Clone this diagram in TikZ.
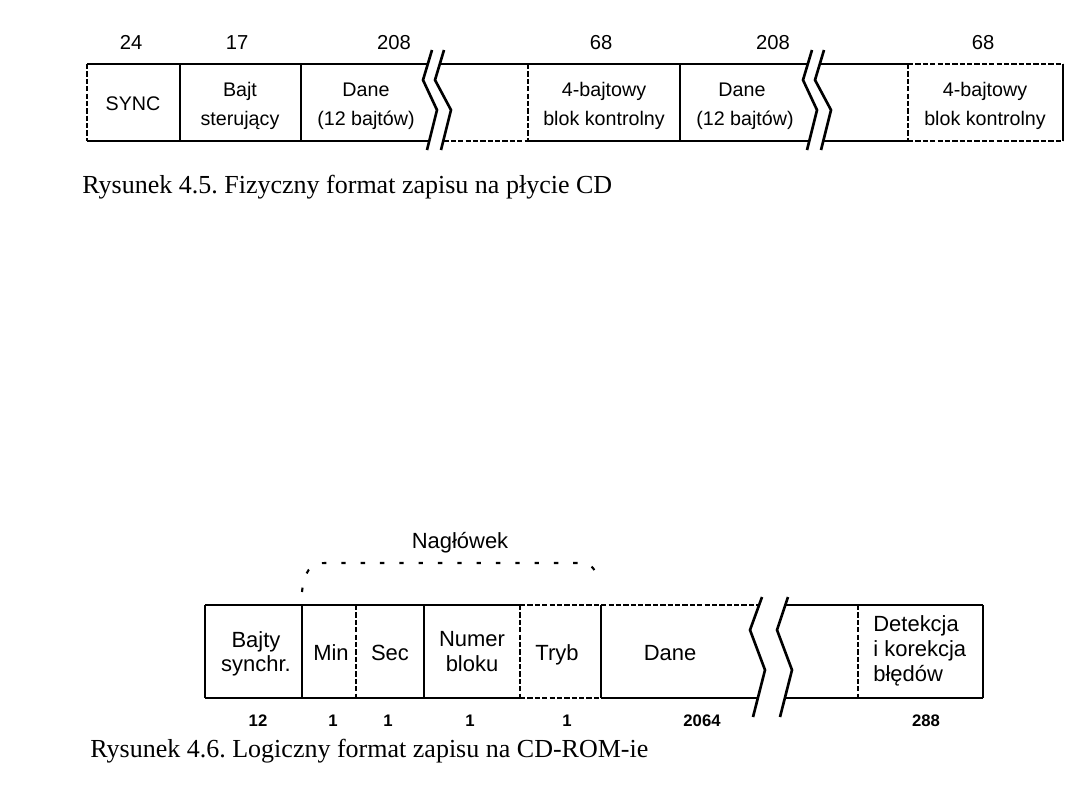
\documentclass[tikz,border=0pt]{standalone}
\usepackage{fontspec}
\setmainfont{Liberation Serif}
\setsansfont{Liberation Sans}
\frenchspacing
\begin{document}
\begin{tikzpicture}[x=0.2mm,y=-0.2mm,
  ln/.style={line width=1.5pt},
  dl/.style={line width=1.3pt, dash pattern=on 3pt off 1.2pt},
  brk/.style={line width=1.5pt, line join=miter},
  gapfill/.style={fill=white, draw=none},
  lblA/.style={font=\sffamily\fontsize{11.2}{13}\selectfont, inner sep=0pt, anchor=base},
  numA/.style={font=\sffamily\fontsize{11.5}{13}\selectfont, inner sep=0pt, anchor=base},
  lblB/.style={font=\sffamily\fontsize{12.5}{14}\selectfont, inner sep=0pt, anchor=base},
  numB/.style={font=\sffamily\bfseries\fontsize{9.5}{11}\selectfont, inner sep=0pt, anchor=base},
  captext/.style={font=\rmfamily\fontsize{14.8}{18}\selectfont, inner sep=0pt, anchor=base west},
  hdr/.style={line width=1.2pt, dash pattern=on 2.5pt off 8.5pt}
]
\useasboundingbox (0,0) rectangle (1080,810);

% ================= Figure 4.5 =================
\draw[ln] (87,64) -- (908,64);
\draw[dl] (908,64) -- (1063,64);
\draw[ln] (87,141) -- (436,141);
\draw[dl] (436,141) -- (528,141);
\draw[ln] (528,141) -- (908,141);
\draw[dl] (908,141) -- (1063,141);
\draw[dl] (87,64) -- (87,141);
\draw[ln] (180,64) -- (180,141);
\draw[ln] (301,64) -- (301,141);
\draw[dl] (528,64) -- (528,141);
\draw[ln] (680,64) -- (680,141);
\draw[dl] (908,64) -- (908,141);
\draw[ln] (1063,64) -- (1063,141);
\fill[gapfill] (432,50) -- (423,80) -- (437,110) -- (427,150) -- (441,150) -- (451,110) -- (435,80) -- (444,50) -- cycle;
\draw[brk] (432,50) -- (423,80) -- (437,110) -- (427,150);
\draw[brk] (444,50) -- (435,80) -- (451,110) -- (441,150);
\fill[gapfill] (812,50) -- (803,80) -- (817,110) -- (807,150) -- (821,150) -- (831,110) -- (815,80) -- (824,50) -- cycle;
\draw[brk] (812,50) -- (803,80) -- (817,110) -- (807,150);
\draw[brk] (824,50) -- (815,80) -- (831,110) -- (821,150);
\node[numA] (n24) at (131,49) {24};
\node[numA] (n17) at (237,49) {17};
\node[numA] (n208a) at (394,49) {208};
\node[numA] (n68a) at (601,49) {68};
\node[numA] (n208b) at (773,49) {208};
\node[numA] (n68b) at (983,49) {68};
\node[lblA] (sync) at (133,110) {SYNC};
\node[lblA] (bajt1) at (240,96) {Bajt};
\node[lblA] (bajt2) at (240,125) {sterujący};
\node[lblA] (dane1a) at (366,96) {Dane};
\node[lblA] (dane1b) at (366,125) {(12 bajtów)};
\node[lblA] (kb1a) at (604,96) {4-bajtowy};
\node[lblA] (kb1b) at (604,125) {blok kontrolny};
\node[lblA] (dane2a) at (742,96) {Dane};
\node[lblA] (dane2b) at (745,125) {(12 bajtów)};
\node[lblA] (kb2a) at (985,96) {4-bajtowy};
\node[lblA] (kb2b) at (985,125) {blok kontrolny};
\node[captext] (cap1) at (82,193) {Rysunek 4.5. Fizyczny format zapisu na płycie CD};

% ================= Figure 4.6 =================
\draw[ln] (205,605) -- (520,605);
\draw[dl] (520,605) -- (775,605);
\draw[ln] (775,605) -- (983,605);
\draw[ln] (205,698) -- (520,698);
\draw[dl] (520,698) -- (601,698);
\draw[ln] (601,698) -- (983,698);
\draw[ln] (205,605) -- (205,698);
\draw[ln] (302,605) -- (302,698);
\draw[dl] (356,605) -- (356,698);
\draw[ln] (424,605) -- (424,698);
\draw[dl] (520,605) -- (520,698);
\draw[ln] (601,605) -- (601,698);
\draw[dl] (858,605) -- (858,698);
\draw[ln] (983,605) -- (983,698);
\fill[gapfill] (762,597) -- (750,630) -- (765,670) -- (753,717) -- (780,717) -- (792,670) -- (777,630) -- (788,597) -- cycle;
\draw[brk] (762,597) -- (750,630) -- (765,670) -- (753,717);
\draw[brk] (788,597) -- (777,630) -- (792,670) -- (780,717);
\draw[hdr] (302,592) .. controls (304,572) and (310,563) .. (325,563) -- (583,563) .. controls (592,563) and (597,572) .. (598,582);
\node[lblB] (hdrlbl) at (460,548) {Nagłówek};
\node[lblB] (bs1) at (256,647) {Bajty};
\node[lblB] (bs2) at (256,671) {synchr.};
\node[lblB] (min) at (331,660) {Min};
\node[lblB] (sec) at (390,660) {Sec};
\node[lblB] (nb1) at (472,646) {Numer};
\node[lblB] (nb2) at (472,671) {bloku};
\node[lblB] (tryb) at (557,660) {Tryb};
\node[lblB] (dane3) at (670,660) {Dane};
\node[lblB, anchor=base west] (det1) at (873,631) {Detekcja};
\node[lblB, anchor=base west] (det2) at (873,656) {i korekcja};
\node[lblB, anchor=base west] (det3) at (873,681) {błędów};
\node[numB] (m12) at (258,726) {12};
\node[numB] (m1a) at (333,726) {1};
\node[numB] (m1b) at (388,726) {1};
\node[numB] (m1c) at (470,726) {1};
\node[numB] (m1d) at (567,726) {1};
\node[numB] (m2064) at (702,726) {2064};
\node[numB] (m288) at (926,726) {288};
\node[captext] (cap2) at (90,757) {Rysunek 4.6. Logiczny format zapisu na CD-ROM-ie};
\end{tikzpicture}
\end{document}
